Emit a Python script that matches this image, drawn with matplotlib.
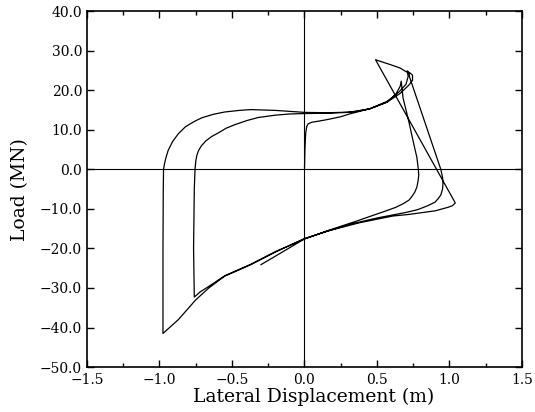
import numpy as np
import matplotlib
matplotlib.use("Agg")
import matplotlib.pyplot as plt
from matplotlib.ticker import MultipleLocator, FuncFormatter

plt.rcParams['font.family'] = ['DejaVu Serif']

# 1サイクル目: 初期載荷 → 内側ループ (値は図から読み取り)
cycle1_disp = [0.0, 0.003, 0.008, 0.015, 0.025, 0.05, 0.1, 0.16, 0.25, 0.31, 0.45, 0.57,
               0.63, 0.66, 0.667,
               0.68, 0.72, 0.75, 0.775, 0.785, 0.788, 0.783, 0.775, 0.76, 0.74, 0.72, 0.68,
               0.63, 0.57, 0.5, 0.35, 0.16, 0.0, -0.2, -0.37, -0.55, -0.66, -0.72, -0.76]
cycle1_load = [0.0, 5.0, 9.0, 10.8, 11.5, 11.9, 12.2, 12.6, 13.3, 14.0, 15.3, 17.0,
               19.0, 21.0, 22.3,
               18.0, 12.0, 7.0, 3.0, 0.0, -1.5, -3.0, -4.5, -5.8, -6.9, -7.8, -8.7,
               -9.6, -10.4, -11.3, -13.2, -15.5, -17.6, -20.8, -24.0, -26.9, -29.6, -31.0, -32.3]

# 2サイクル目: -0.76から再載荷 → 外側ループ
cycle2_disp = [-0.765, -0.76, -0.755, -0.75, -0.742, -0.73, -0.71, -0.68, -0.64, -0.59,
               -0.54, -0.48, -0.4, -0.32, -0.2, -0.1, 0.0,
               0.16, 0.3, 0.45, 0.57, 0.65, 0.70, 0.715, 0.708, 0.72, 0.725,
               0.94, 0.952, 0.955, 0.952, 0.94, 0.92, 0.9, 0.85, 0.78, 0.7, 0.6, 0.5, 0.3,
               0.16, 0.0, -0.2, -0.37, -0.55, -0.66, -0.75, -0.87, -0.976]
cycle2_load = [-20.0, -5.0, 0.0, 2.0, 3.6, 4.8, 6.0, 7.2, 8.3, 9.3,
               10.4, 11.3, 12.3, 13.1, 13.7, 14.0, 14.1,
               14.2, 14.4, 15.3, 17.2, 19.5, 21.5, 23.5, 24.9, 24.5, 23.3,
               0.0, -2.0, -3.5, -5.0, -6.5, -7.5, -8.3, -9.2, -10.2, -10.9, -11.6, -12.3, -14.0,
               -15.6, -17.5, -20.9, -24.1, -27.0, -30.0, -33.0, -38.0, -41.5]

# 3サイクル目: -0.98から再載荷 → 最大荷重 → 除荷
cycle3_disp = [-0.976, -0.974, -0.972, -0.965, -0.955, -0.94, -0.91, -0.87, -0.82, -0.76,
               -0.71, -0.63, -0.55, -0.45, -0.37, -0.2, 0.0,
               0.16, 0.34, 0.45, 0.57, 0.66, 0.72, 0.745, 0.745, 0.73, 0.70, 0.66, 0.59, 0.49,
               1.04, 1.02, 0.99, 0.9, 0.72, 0.61, 0.38, 0.16, 0.0, -0.3]
cycle3_load = [-20.0, -5.0, 0.0, 1.5, 3.0, 4.8, 7.0, 9.0, 10.8, 12.1,
               13.0, 13.9, 14.5, 14.9, 15.1, 14.9, 14.4,
               14.3, 14.5, 15.3, 17.0, 19.2, 21.3, 22.5, 23.8, 24.3, 24.7, 25.6, 26.5, 27.7,
               -8.5, -9.2, -9.6, -10.5, -11.4, -11.8, -13.5, -15.6, -17.6, -24.1]

disp = np.concatenate([cycle1_disp, cycle2_disp, cycle3_disp])
load = np.concatenate([cycle1_load, cycle2_load, cycle3_load])

fig = plt.figure(figsize=(5.35, 4.12), dpi=100)
ax = fig.add_axes([0.1626, 0.109, 0.8131, 0.864])

ax.axhline(0, color='black', lw=0.8)
ax.axvline(0, color='black', lw=0.8)
ax.plot(disp, load, color='black', lw=0.9)

ax.set_xlim(-1.5, 1.5)
ax.set_ylim(-50, 40)
ax.xaxis.set_major_locator(MultipleLocator(0.5))
ax.xaxis.set_minor_locator(MultipleLocator(0.25))
ax.yaxis.set_major_locator(MultipleLocator(10))

fmt = FuncFormatter(lambda v, pos: f"{v:.1f}".replace('-', '\u2212'))
ax.xaxis.set_major_formatter(fmt)
ax.yaxis.set_major_formatter(fmt)

ax.tick_params(which='both', direction='in', top=True, right=True, labelsize=10, width=1.0)
ax.tick_params(axis='x', which='major', pad=4)
ax.tick_params(which='major', length=5)
ax.tick_params(which='minor', length=3)
for s in ax.spines.values():
    s.set_linewidth(1.2)

ax.set_xlabel("Lateral Displacement (m)", fontsize=13.5)
ax.set_ylabel("Load (MN)", fontsize=13.5, labelpad=8)
ax.xaxis.set_label_coords(0.52, -0.058)

fig.savefig("out.png", dpi=100)
